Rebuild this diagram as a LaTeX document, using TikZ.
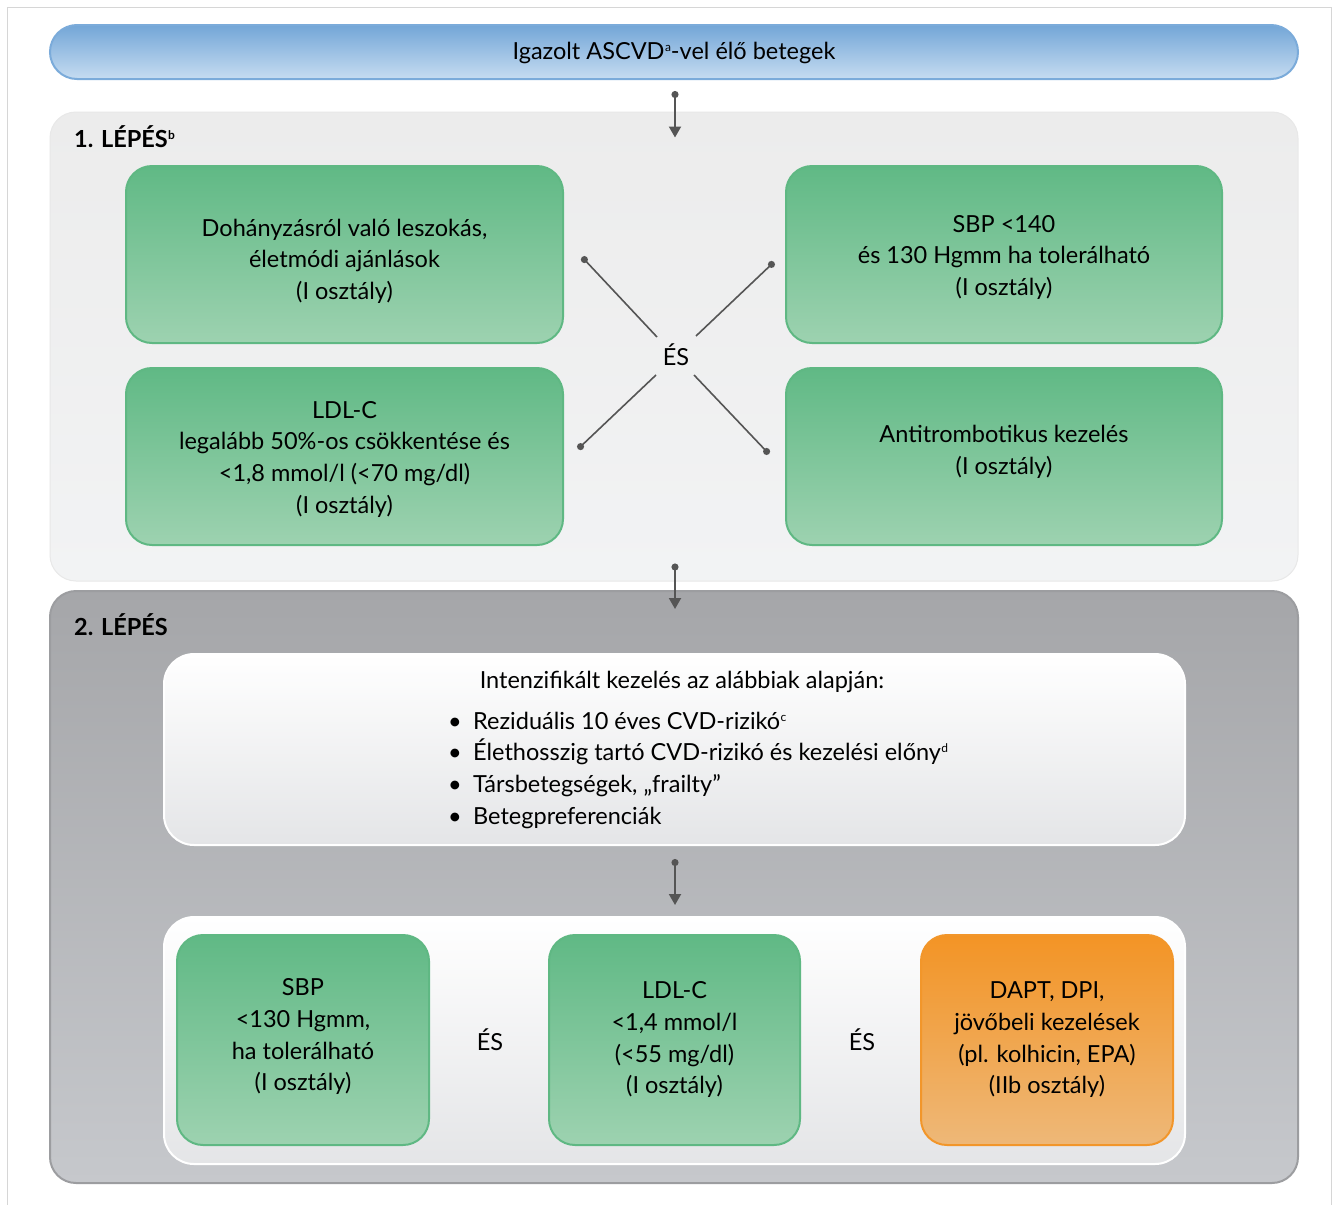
\documentclass[tikz,border=0pt]{standalone}
\usepackage{fontspec}
\setmainfont{Lato}
\usetikzlibrary{arrows.meta,calc}
\definecolor{framec}{HTML}{D6D6D6}
\definecolor{bluetop}{HTML}{73A6D7}
\definecolor{bluebot}{HTML}{C6DCF1}
\definecolor{blueline}{HTML}{7BABDA}
\definecolor{ponetop}{HTML}{ECECEC}
\definecolor{ponebot}{HTML}{F2F3F4}
\definecolor{poneline}{HTML}{E8E8E8}
\definecolor{greentop}{HTML}{60B985}
\definecolor{greenbot}{HTML}{9DD2B0}
\definecolor{greenline}{HTML}{5FB883}
\definecolor{ptwotop}{HTML}{A5A6A9}
\definecolor{ptwobot}{HTML}{C6C8CC}
\definecolor{ptwoline}{HTML}{9C9DA0}
\definecolor{whitebot}{HTML}{E4E5E7}
\definecolor{orangetop}{HTML}{F39425}
\definecolor{orangebot}{HTML}{EEB878}
\definecolor{orangeline}{HTML}{F2962A}
\definecolor{conn}{HTML}{555555}
\tikzset{
  txt/.style={font=\fontsize{23.5}{31.7}\selectfont, align=center, text=black},
  bluebox/.style={draw=blueline, line width=2pt, top color=bluetop, bottom color=bluebot, rounded corners=27pt, minimum width=1248pt, minimum height=54pt, inner sep=0pt, txt},
  panelone/.style={draw=poneline, line width=1pt, top color=ponetop, bottom color=ponebot, rounded corners=26pt, minimum width=1248pt, minimum height=469pt, inner sep=0pt},
  paneltwo/.style={draw=ptwoline, line width=2pt, top color=ptwotop, bottom color=ptwobot, rounded corners=26pt, minimum width=1248pt, minimum height=592pt, inner sep=0pt},
  whitebox/.style={draw=white, line width=2pt, top color=white, bottom color=whitebot, rounded corners=30pt, minimum width=1021pt, inner sep=0pt},
  greenbox/.style={draw=greenline, line width=2pt, top color=greentop, bottom color=greenbot, rounded corners=26pt, inner sep=0pt, txt},
  orangebox/.style={draw=orangeline, line width=2pt, top color=orangetop, bottom color=orangebot, rounded corners=26pt, inner sep=0pt, txt},
  steplabel/.style={font=\fontsize{23.5}{28}\bfseries\selectfont, anchor=west, inner sep=0pt},
  flowarrow/.style={draw=conn, line width=2pt, {Circle[length=7pt]}-{Triangle[length=11pt,width=12pt]}},
  crossline/.style={draw=conn, line width=1.6pt, {Circle[length=7pt]}-},
}
\newcommand{\lines}[2]{\raisebox{#1}[\height][\depth]{\begin{tabular}{@{}c@{}}#2\end{tabular}}}
\newcommand{\supmark}[1]{\kern0.5pt\raisebox{8pt}{\fontsize{12}{12}\selectfont #1}}
\begin{document}
\begin{tikzpicture}[x=1pt,y=-1pt]
\useasboundingbox (0,0) rectangle (1339,1205);
\fill[white] (0,0) rectangle (1339,1205);
\draw[framec, line width=1.2pt] (7.5,1206) -- (7.5,7.5) -- (1331.5,7.5) -- (1331.5,1206);

% top banner
\node[bluebox] (banner) at (674,52) {\lines{-1pt}{Igazolt ASCVD\supmark{a}-vel élő betegek}};

% step 1
\node[panelone] (step1) at (674,346.5) {};
\node[steplabel] (lab1) at (74,137) {1. LÉPÉS\supmark{b}};
\node[greenbox, minimum width=437pt, minimum height=177pt] (tl) at (344.5,254.5)
  {\lines{-7pt}{Dohányzásról való leszokás,\\ életmódi ajánlások\\ (I osztály)}};
\node[greenbox, minimum width=436pt, minimum height=177pt] (tr) at (1004,254.5)
  {\lines{-3pt}{SBP <140\\ és 130 Hgmm ha tolerálható\\ (I osztály)}};
\node[greenbox, minimum width=437pt, minimum height=177pt] (bl) at (344.5,456.5)
  {\lines{-3pt}{LDL-C\\ legalább 50\%-os csökkentése és\\ <1,8 mmol/l (<70 mg/dl)\\ (I osztály)}};
\node[greenbox, minimum width=436pt, minimum height=177pt] (br) at (1004,456.5)
  {\lines{4.5pt}{Antitrombotikus kezelés\\ (I osztály)}};
\node[txt, inner sep=2pt] (es1) at (676,354.5) {ÉS};

\coordinate (tlo) at (582,257); \coordinate (tli) at (657,337);
\coordinate (tro) at (774,262); \coordinate (tri) at (696,336);
\coordinate (blo) at (578,449); \coordinate (bli) at (656,375);
\coordinate (bro) at (769,454); \coordinate (bri) at (694,375);
\draw[crossline] (tlo) -- (tli);
\draw[crossline] (tro) -- (tri);
\draw[crossline] (blo) -- (bli);
\draw[crossline] (bro) -- (bri);

% step 2
\node[paneltwo] (step2) at (674,887) {};
\node[steplabel] (lab2) at (74,625) {2. LÉPÉS};
\node[whitebox, minimum height=191pt] (wbox) at (674.5,749.5) {};
\node[txt] (head) at (682,682) {Intenzifikált kezelés az alábbiak alapján:};
\node[txt, align=left, anchor=north west, inner sep=0pt] (list) at (445,711.5)
  {\makebox[28pt][l]{\hspace{3pt}•}Reziduális 10 éves CVD-rizikó\supmark{c}\\
   \makebox[28pt][l]{\hspace{3pt}•}Élethosszig tartó CVD-rizikó és kezelési előny\supmark{d}\\
   \makebox[28pt][l]{\hspace{3pt}•}Társbetegségek, „frailty”\\
   \makebox[28pt][l]{\hspace{3pt}•}Betegpreferenciák};

\node[whitebox, minimum height=247pt] (bbox) at (674.5,1040.5) {};
\node[greenbox, minimum width=252pt, minimum height=210pt] (g1) at (303,1040)
  {\lines{3pt}{SBP\\ <130 Hgmm,\\ ha tolerálható\\ (I osztály)}};
\node[greenbox, minimum width=251pt, minimum height=210pt] (g2) at (674.5,1040)
  {\lines{0pt}{LDL-C\\ <1,4 mmol/l\\ (<55 mg/dl)\\ (I osztály)}};
\node[orangebox, minimum width=252pt, minimum height=210pt] (og) at (1047,1040)
  {\lines{0pt}{DAPT, DPI,\\ jövőbeli kezelések\\ (pl. kolhicin, EPA)\\ (IIb osztály)}};
\node[txt] (es2) at (490,1040) {ÉS};
\node[txt] (es3) at (862,1040) {ÉS};

% arrows
\draw[flowarrow] ($(banner.south)+(1,11)$) -- ($(step1.north)+(1,26)$);
\draw[flowarrow] ($(step1.south)+(1,-18)$) -- ($(step2.north)+(1,19)$);
\draw[flowarrow] ($(wbox.south)+(0.5,13)$) -- ($(bbox.north)+(0.5,-11)$);
\end{tikzpicture}
\end{document}
